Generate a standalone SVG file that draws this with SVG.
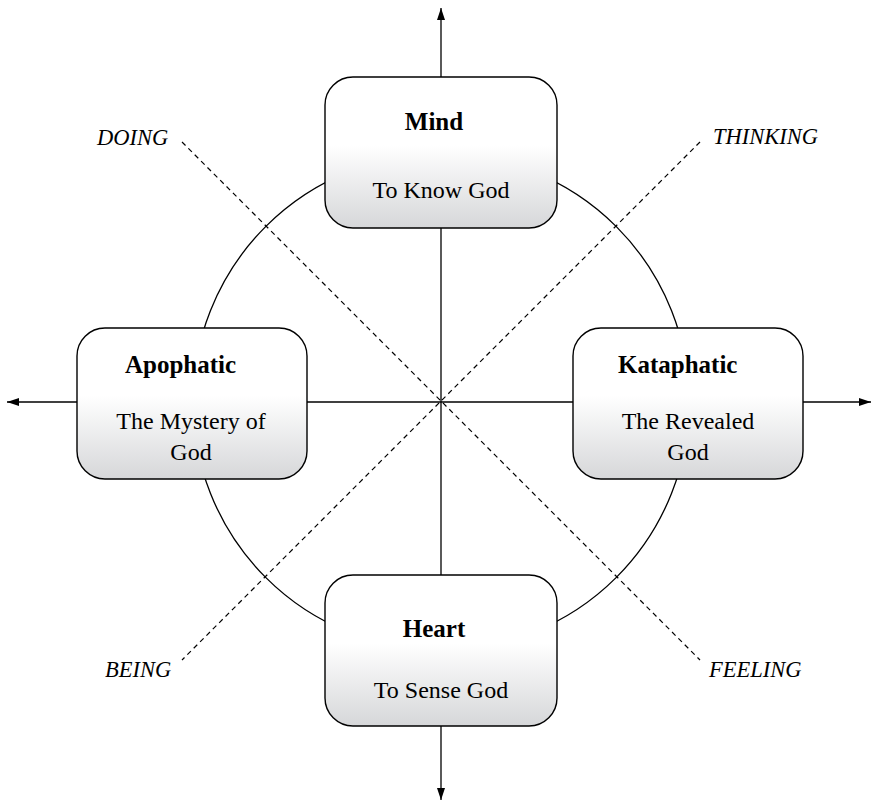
<svg xmlns="http://www.w3.org/2000/svg" width="873" height="806" viewBox="0 0 873 806">
<style>
.ln{stroke:#000;stroke-width:1.3;fill:none}
.dash{stroke:#000;stroke-width:1.2;stroke-dasharray:5,4;fill:none}
.box{fill:url(#g);stroke:#000;stroke-width:1.4}
.t{font-family:"Liberation Serif","Times New Roman",serif;font-weight:bold;font-size:25px;fill:#000}
.s{font-family:"Liberation Serif","Times New Roman",serif;font-size:24px;fill:#000;text-anchor:middle}
.i{font-family:"Liberation Serif","Times New Roman",serif;font-style:italic;font-size:22.5px;fill:#000}
</style>
<defs>
<linearGradient id="g" x1="0" y1="0" x2="0" y2="1">
<stop offset="0" stop-color="#ffffff"/>
<stop offset="0.45" stop-color="#ffffff"/>
<stop offset="1" stop-color="#d6d7d9"/>
</linearGradient>
<marker id="ah" viewBox="0 0 12 8" refX="12" refY="4" markerWidth="12" markerHeight="8" markerUnits="userSpaceOnUse" orient="auto">
<path d="M0,0 L12,4 L0,8 Z" fill="#000"/>
</marker>
</defs>
<g id="connectors">
<circle class="ln" cx="441" cy="402" r="248"/>
<line class="dash" x1="182" y1="142" x2="700" y2="660"/>
<line class="dash" x1="700" y1="142" x2="182" y2="660"/>
<line class="ln" x1="441" y1="402" x2="441" y2="8" marker-end="url(#ah)"/>
<line class="ln" x1="441" y1="402" x2="441" y2="800" marker-end="url(#ah)"/>
<line class="ln" x1="441" y1="402" x2="7" y2="402" marker-end="url(#ah)"/>
<line class="ln" x1="441" y1="402" x2="871" y2="402" marker-end="url(#ah)"/>
</g>
<g id="mind">
<rect class="box" x="325" y="77" width="232" height="151" rx="28" ry="28"/>
<text class="t" x="434" y="130" text-anchor="middle">Mind</text>
<text class="s" x="441" y="198">To Know God</text>
</g>
<g id="apophatic">
<rect class="box" x="77" y="328" width="230" height="151" rx="28" ry="28"/>
<text class="t" x="125" y="373">Apophatic</text>
<text class="s" x="191" y="429">The Mystery of</text>
<text class="s" x="191" y="460">God</text>
</g>
<g id="kataphatic">
<rect class="box" x="573" y="328" width="230" height="151" rx="28" ry="28"/>
<text class="t" x="618" y="373">Kataphatic</text>
<text class="s" x="688" y="429">The Revealed</text>
<text class="s" x="688" y="460">God</text>
</g>
<g id="heart">
<rect class="box" x="325" y="575" width="232" height="151" rx="28" ry="28"/>
<text class="t" x="434" y="637" text-anchor="middle">Heart</text>
<text class="s" x="441" y="698">To Sense God</text>
</g>
<g id="labels">
<text class="i" x="97" y="145">DOING</text>
<text class="i" x="713" y="144">THINKING</text>
<text class="i" x="105" y="677">BEING</text>
<text class="i" x="709" y="677">FEELING</text>
</g>
</svg>
